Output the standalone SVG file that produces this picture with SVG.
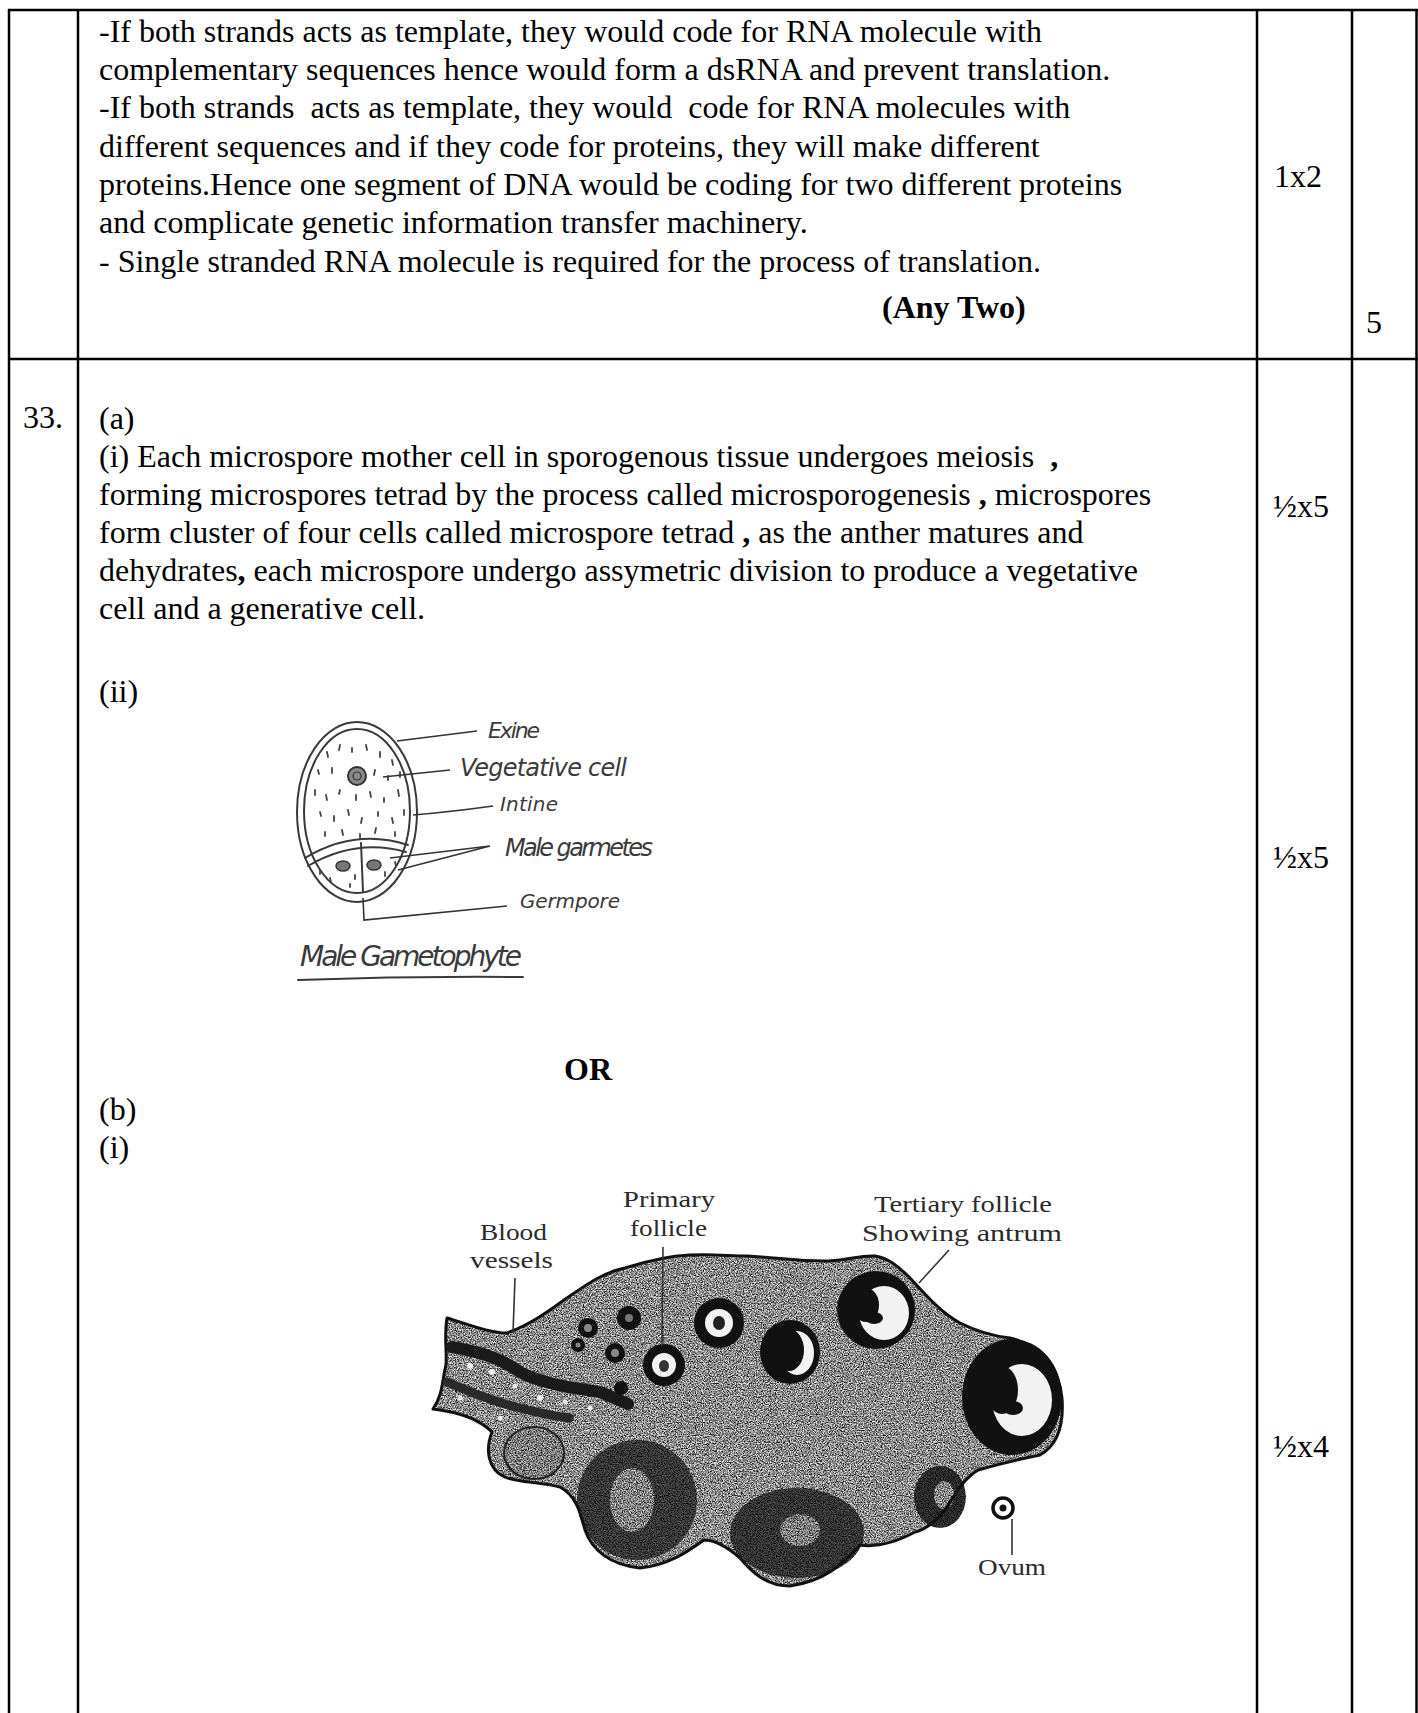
<svg xmlns="http://www.w3.org/2000/svg" width="1418" height="1713" viewBox="0 0 1418 1713">
<style>
.t{font-family:"Liberation Serif","Times New Roman",serif;font-size:32px;fill:#000}
.b{font-weight:bold}
.hw{font-family:"DejaVu Sans","Liberation Sans",sans-serif;font-style:italic;fill:#3a3a3a}
.lbl{font-family:"Liberation Serif","Times New Roman",serif;font-size:23px;fill:#2a2a2a}
.grid{stroke:#000;stroke-width:2.5;fill:none}
.pen{stroke:#3a3a3a;stroke-width:2;fill:none;stroke-linecap:round}
.lead{stroke:#333;stroke-width:1.6;fill:none}
.dk{fill:#111}
.wh{fill:#f2f2f2}
</style>
<defs>
<filter id="tex" x="-5%" y="-5%" width="110%" height="110%" color-interpolation-filters="sRGB">
<feTurbulence type="fractalNoise" baseFrequency="0.85" numOctaves="2" seed="7" result="n"/>
<feColorMatrix in="n" type="matrix" values="2.2 0 0 0 -0.5  2.2 0 0 0 -0.5  2.2 0 0 0 -0.5  0 0 0 0 1" result="g"/>
<feBlend in="SourceGraphic" in2="g" mode="multiply" result="bl"/>
<feComposite in="bl" in2="SourceAlpha" operator="in"/>
</filter>
</defs>
<rect width="1418" height="1713" fill="#fff"/>

<g id="table">
<line class="grid" x1="8" y1="10" x2="1418" y2="10"/>
<line class="grid" x1="9" y1="359" x2="1418" y2="359"/>
<line class="grid" x1="9" y1="9" x2="9" y2="1713"/>
<line class="grid" x1="78" y1="9" x2="78" y2="1713"/>
<line class="grid" x1="1257" y1="9" x2="1257" y2="1713"/>
<line class="grid" x1="1352" y1="9" x2="1352" y2="1713"/>
<line class="grid" x1="1416.5" y1="9" x2="1416.5" y2="1713"/>
</g>

<g id="answer-32">
<text class="t" x="99" y="42">-If both strands acts as template, they would code for RNA molecule with</text>
<text class="t" x="99" y="80">complementary sequences hence would form a dsRNA and prevent translation.</text>
<text class="t" x="99" y="118" xml:space="preserve">-If both strands  acts as template, they would  code for RNA molecules with</text>
<text class="t" x="99" y="157">different sequences and if they code for proteins, they will make different</text>
<text class="t" x="99" y="195">proteins.Hence one segment of DNA would be coding for two different proteins</text>
<text class="t" x="99" y="233">and complicate genetic information transfer machinery.</text>
<text class="t" x="99" y="272">- Single stranded RNA molecule is required for the process of translation.</text>
<text class="t b" x="882" y="318">(Any Two)</text>
<text class="t" x="1274" y="187">1x2</text>
<text class="t" x="1366" y="333">5</text>
</g>

<g id="answer-33-text">
<text class="t" x="23" y="428">33.</text>
<text class="t" x="99" y="429">(a)</text>
<text class="t" x="99" y="467" xml:space="preserve">(i) Each microspore mother cell in sporogenous tissue undergoes meiosis  <tspan class="b">,</tspan></text>
<text class="t" x="99" y="505">forming microspores tetrad by the process called microsporogenesis <tspan class="b">,</tspan> microspores</text>
<text class="t" x="99" y="543">form cluster of four cells called microspore tetrad <tspan class="b">,</tspan> as the anther matures and</text>
<text class="t" x="99" y="581">dehydrates<tspan class="b">,</tspan> each microspore undergo assymetric division to produce a vegetative</text>
<text class="t" x="99" y="619">cell and a generative cell.</text>
<text class="t" x="99" y="702">(ii)</text>
<text class="t b" x="564" y="1080">OR</text>
<text class="t" x="99" y="1120">(b)</text>
<text class="t" x="99" y="1158">(i)</text>
<text class="t" x="1273" y="517">½x5</text>
<text class="t" x="1273" y="868">½x5</text>
<text class="t" x="1273" y="1457">½x4</text>
</g>

<g id="pollen">
<ellipse class="pen" cx="357" cy="812" rx="60" ry="90"/>
<ellipse class="pen" cx="357" cy="811" rx="53" ry="82"/>
<path class="pen" d="M305,858 Q355,828 408,845"/>
<path class="pen" d="M308,866 Q356,838 406,852"/>
<path class="pen" d="M361,843 L363,892"/>
<ellipse cx="343" cy="866" rx="7" ry="5" fill="#777" stroke="#333" stroke-width="1.5"/>
<ellipse cx="374" cy="865" rx="7" ry="5" fill="#777" stroke="#333" stroke-width="1.5"/>
<circle cx="357" cy="776" r="9" fill="#888" stroke="#333" stroke-width="2"/>
<circle cx="357" cy="776" r="4" fill="none" stroke="#333" stroke-width="1.2"/>
<path stroke="#444" stroke-width="1.8" stroke-linecap="round" d="M327,752l1,5M340,745l-1,5M352,748l0,4M366,745l1,5M380,752l0,5M392,760l1,5M318,770l1,4M332,768l0,5M375,770l-1,5M388,776l0,4M400,772l0,5M315,790l0,5M326,795l1,5M340,790l-1,4M356,795l0,5M370,792l1,5M384,798l0,4M398,790l1,6M320,812l1,4M334,816l0,5M348,810l1,5M362,818l-1,5M378,812l0,4M392,818l1,5M404,810l0,5M325,832l0,4M342,830l1,5M360,834l0,4M376,828l-1,5M395,832l0,4M320,870l0,4M330,878l1,4M355,875l0,4M385,872l0,4M395,862l1,4M350,884l0,3"/>
<g class="lead">
<path d="M397,741 L477,731"/>
<path d="M383,777 L450,770"/>
<path d="M413,815 Q450,812 493,806"/>
<path d="M390,858 L490,846 M398,870 L490,846"/>
<path d="M363,898 L364,920 L507,906"/>
</g>
<text class="hw" x="488" y="738" font-size="22" textLength="52">Exine</text>
<text class="hw" x="460" y="776" font-size="24" textLength="167">Vegetative cell</text>
<text class="hw" x="500" y="811" font-size="20" textLength="58">Intine</text>
<text class="hw" x="505" y="856" font-size="24" textLength="148">Male garmetes</text>
<text class="hw" x="520" y="908" font-size="20" textLength="100">Germpore</text>
<text class="hw" x="300" y="966" font-size="28" textLength="222">Male Gametophyte</text>
<path class="pen" d="M298,980 Q410,976 523,977"/>
</g>

<g id="ovary">
<g filter="url(#tex)">
<path fill="#e6e6e6" d="M447,1318 C470,1325 490,1333 507,1333 C530,1325 550,1310 564,1300 C590,1282 605,1272 625,1268 C650,1260 670,1256 690,1255 C715,1254 730,1256 747,1256 C780,1258 805,1262 829,1261 C850,1260 860,1255 875,1256 C888,1258 898,1266 910,1278 C925,1294 940,1312 960,1323 C978,1332 992,1336 1010,1338 C1040,1345 1060,1370 1062,1398 C1064,1425 1058,1445 1040,1455 C1015,1460 995,1465 978,1470 C962,1480 955,1495 945,1510 C935,1522 925,1530 915,1532 C900,1540 880,1548 860,1545 C845,1560 830,1580 790,1586 C765,1586 750,1570 740,1558 C725,1545 712,1540 704,1540 C690,1550 670,1565 640,1568 C610,1565 592,1550 585,1530 C580,1510 575,1495 560,1487 C540,1482 515,1482 505,1477 C488,1470 485,1450 492,1432 C480,1420 460,1413 440,1410 L433,1409 C443,1395 442,1380 446,1365 C447,1350 444,1335 447,1318 Z"/>
<circle cx="637" cy="1500" r="60" fill="#5a5a5a"/>
<ellipse cx="632" cy="1500" rx="22" ry="32" fill="#d8d8d8"/>
<ellipse cx="797" cy="1533" rx="67" ry="45" fill="#555"/>
<ellipse cx="800" cy="1530" rx="20" ry="16" fill="#cfcfcf"/>
<ellipse cx="534" cy="1453" rx="30" ry="26" fill="#cfcfcf"/>
<ellipse cx="940" cy="1497" rx="26" ry="31" fill="#444"/>
<ellipse cx="944" cy="1495" rx="10" ry="14" fill="#ddd"/>
</g>
<path fill="none" stroke="#111" stroke-width="3" stroke-linejoin="round" d="M447,1318 C470,1325 490,1333 507,1333 C530,1325 550,1310 564,1300 C590,1282 605,1272 625,1268 C650,1260 670,1256 690,1255 C715,1254 730,1256 747,1256 C780,1258 805,1262 829,1261 C850,1260 860,1255 875,1256 C888,1258 898,1266 910,1278 C925,1294 940,1312 960,1323 C978,1332 992,1336 1010,1338 C1040,1345 1060,1370 1062,1398 C1064,1425 1058,1445 1040,1455 C1015,1460 995,1465 978,1470 C962,1480 955,1495 945,1510 C935,1522 925,1530 915,1532 C900,1540 880,1548 860,1545 C845,1560 830,1580 790,1586 C765,1586 750,1570 740,1558 C725,1545 712,1540 704,1540 C690,1550 670,1565 640,1568 C610,1565 592,1550 585,1530 C580,1510 575,1495 560,1487 C540,1482 515,1482 505,1477 C488,1470 485,1450 492,1432 C480,1420 460,1413 440,1410 L433,1409 C443,1395 442,1380 446,1365 C447,1350 444,1335 447,1318 Z"/>
<ellipse cx="534" cy="1453" rx="30" ry="26" fill="none" stroke="#222" stroke-width="2"/>
<path d="M452,1347 C480,1352 500,1358 520,1372 C545,1385 575,1388 600,1392 L628,1404" fill="none" stroke="#1a1a1a" stroke-width="12" stroke-linecap="round" stroke-dasharray="9 3"/>
<path d="M447,1382 C470,1392 495,1402 520,1408 C540,1413 555,1416 570,1418" fill="none" stroke="#2a2a2a" stroke-width="9" stroke-linecap="round" stroke-dasharray="7 4"/>
<g fill="#eee">
<circle cx="470" cy="1366" r="3"/><circle cx="492" cy="1372" r="3"/><circle cx="515" cy="1386" r="2.5"/><circle cx="540" cy="1398" r="3"/><circle cx="565" cy="1402" r="2.5"/><circle cx="590" cy="1408" r="2.5"/><circle cx="460" cy="1398" r="2.5"/><circle cx="500" cy="1418" r="2.5"/>
</g>
<circle cx="629" cy="1318" r="12" class="dk"/><circle cx="629" cy="1318" r="4" fill="#777"/>
<circle cx="588" cy="1328" r="10" class="dk"/><circle cx="588" cy="1328" r="4" fill="#888"/>
<circle cx="578" cy="1345" r="7" class="dk"/><circle cx="578" cy="1345" r="2.5" fill="#888"/>
<circle cx="615" cy="1353" r="10" class="dk"/><circle cx="615" cy="1353" r="4" fill="#888"/>
<circle cx="621" cy="1388" r="7" class="dk"/>
<circle cx="664" cy="1365" r="21" class="dk"/><circle cx="664" cy="1365" r="12" class="wh"/><ellipse cx="664" cy="1366" rx="5" ry="6" fill="#333"/>
<circle cx="719" cy="1323" r="25" class="dk"/><circle cx="719" cy="1323" r="14" class="wh"/><ellipse cx="719" cy="1323" rx="6" ry="7" fill="#222"/>
<ellipse cx="790" cy="1352" rx="30" ry="32" class="dk"/><ellipse cx="797" cy="1353" rx="17" ry="22" class="wh"/><ellipse cx="789" cy="1350" rx="15" ry="21" class="dk"/>
<circle cx="876" cy="1310" r="39" class="dk"/><ellipse cx="884" cy="1313" rx="25" ry="27" class="wh"/><ellipse cx="866" cy="1305" rx="13" ry="17" class="dk"/><ellipse cx="874" cy="1318" rx="9" ry="6" class="dk"/>
<ellipse cx="1012" cy="1397" rx="50" ry="58" class="dk"/><ellipse cx="1022" cy="1400" rx="30" ry="36" class="wh"/><ellipse cx="1002" cy="1390" rx="16" ry="24" class="dk"/><ellipse cx="1013" cy="1408" rx="10" ry="7" class="dk"/>
<circle cx="1003" cy="1508" r="10" fill="#fff" stroke="#111" stroke-width="3.5"/>
<circle cx="1003" cy="1508" r="3.5" fill="#111"/>
<g class="lead">
<path d="M515,1278 L513,1333"/>
<path d="M663,1247 L662,1346"/>
<path d="M949,1250 L919,1283"/>
<path d="M1012,1519 L1012,1555"/>
</g>
<text class="lbl" x="623" y="1207" textLength="92" lengthAdjust="spacingAndGlyphs">Primary</text>
<text class="lbl" x="630" y="1236" textLength="77" lengthAdjust="spacingAndGlyphs">follicle</text>
<text class="lbl" x="480" y="1240" textLength="67" lengthAdjust="spacingAndGlyphs">Blood</text>
<text class="lbl" x="470" y="1268" textLength="83" lengthAdjust="spacingAndGlyphs">vessels</text>
<text class="lbl" x="874" y="1212" textLength="178" lengthAdjust="spacingAndGlyphs">Tertiary follicle</text>
<text class="lbl" x="862" y="1241" textLength="200" lengthAdjust="spacingAndGlyphs">Showing antrum</text>
<text class="lbl" x="978" y="1575" textLength="68" lengthAdjust="spacingAndGlyphs">Ovum</text>
</g>
</svg>
